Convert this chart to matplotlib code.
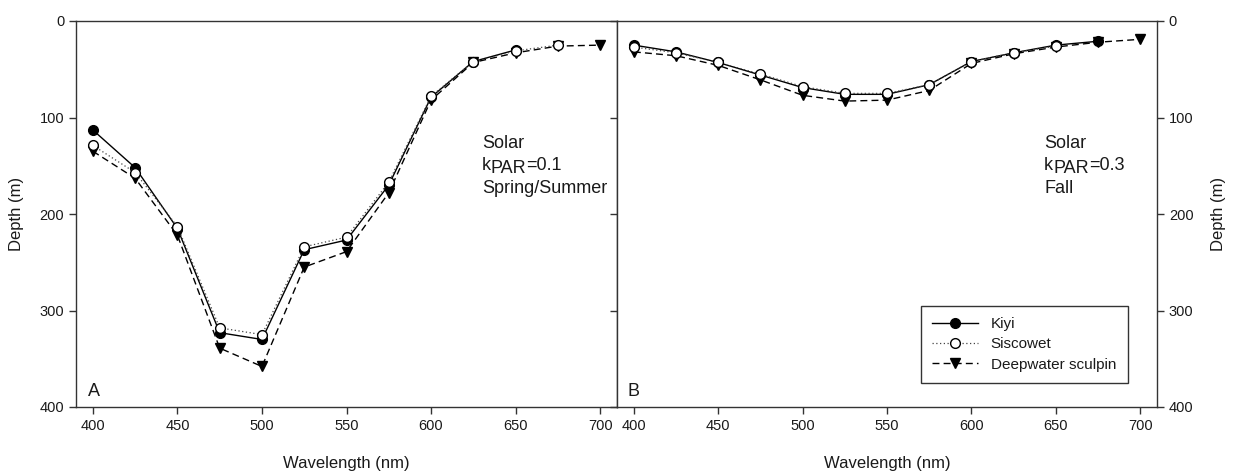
import matplotlib
matplotlib.use("Agg")
import matplotlib.pyplot as plt
from matplotlib.transforms import offset_copy

plt.rcParams['font.family'] = ['Liberation Sans', 'DejaVu Sans']

# ---------------- data ----------------
wl = [400, 425, 450, 475, 500, 525, 550, 575, 600, 625, 650, 675, 700]

# Panel A: Solar, kPAR = 0.1, Spring/Summer
a_kiyi_wl = [400, 425, 450, 475, 500, 525, 550, 575, 600, 625, 650]
a_kiyi = [113, 152, 215, 323, 330, 237, 227, 170, 79, 42, 30]
a_sisc_wl = [400, 425, 450, 475, 500, 525, 550, 575, 600, 625, 650, 675]
a_sisc = [129, 157, 213, 318, 325, 234, 224, 167, 78, 42, 31, 25]
a_scul_wl = [400, 425, 450, 475, 500, 525, 550, 575, 600, 625, 650, 675, 700]
a_scul = [135, 163, 222, 339, 358, 255, 239, 178, 82, 43, 33, 26, 25]

# Panel B: Solar, kPAR = 0.3, Fall
b_kiyi_wl = [400, 425, 450, 475, 500, 525, 550, 575, 600, 625, 650, 675]
b_kiyi = [25, 32, 43, 56, 69, 76, 76, 66, 42, 33, 25, 21]
b_sisc_wl = [400, 425, 450, 475, 500, 525, 550, 575, 600, 625, 650]
b_sisc = [27, 33, 43, 55, 68, 75, 75, 66, 42, 33, 26]
b_scul_wl = [400, 425, 450, 475, 500, 525, 550, 575, 600, 625, 650, 675, 700]
b_scul = [32, 36, 46, 61, 77, 83, 82, 72, 44, 34, 27, 22, 19]

series_names = ["Kiyi", "Siscowet", "Deepwater sculpin"]
panel_letters = ["A", "B"]
panel_kpar = ["0.1", "0.3"]
panel_season = ["Spring/Summer", "Fall"]
xticks = [400, 450, 500, 550, 600, 650, 700]
yticks = [0, 100, 200, 300, 400]

# ---------------- figure ----------------
W, H = 1233, 474
fig = plt.figure(figsize=(W / 100, H / 100), dpi=100)
axA = fig.add_axes([76 / W, 67 / H, 541 / W, 386 / H])
axB = fig.add_axes([617 / W, 67 / H, 540 / W, 386 / H])

spine_col = '#333333'
txt_col = '#1a1a1a'


def draw(ax, kw, k, sw, s, dw, d):
    ax.plot(dw, d, color='black', lw=1.0, linestyle=(0, (5, 3)), marker='v',
            markersize=7, markerfacecolor='black', markeredgecolor='black',
            label=series_names[2], zorder=3)
    ax.plot(kw, k, color='black', lw=1.0, linestyle='-', marker='o',
            markersize=7, markerfacecolor='black', markeredgecolor='black',
            label=series_names[0], zorder=4)
    ax.plot(sw, s, color='#444444', lw=0.9, linestyle=(0, (1, 2)), marker='o',
            markersize=7, markerfacecolor='white', markeredgecolor='black',
            markeredgewidth=1.0, label=series_names[1], zorder=5)


draw(axA, a_kiyi_wl, a_kiyi, a_sisc_wl, a_sisc, a_scul_wl, a_scul)
draw(axB, b_kiyi_wl, b_kiyi, b_sisc_wl, b_sisc, b_scul_wl, b_scul)

for ax in (axA, axB):
    ax.set_xlim(390, 710)
    ax.set_ylim(400, 0)
    ax.set_xticks(xticks)
    ax.set_yticks(yticks)
    for sp in ax.spines.values():
        sp.set_color(spine_col)
        sp.set_linewidth(1.0)
    ax.tick_params(axis='both', direction='out', length=5, width=1.0,
                   color=spine_col, labelsize=10.5, labelcolor=txt_col)
    ax.set_xlabel("Wavelength (nm)", fontsize=12, color=txt_col, labelpad=17)

axA.set_ylabel("Depth (m)", fontsize=12, color=txt_col, labelpad=11)
axA.tick_params(axis='y', left=True, right=False, labelleft=True)

axB.tick_params(axis='y', left=True, right=True, labelleft=False, labelright=True)
axB.yaxis.set_label_position('right')
axB.set_ylabel("Depth (m)", fontsize=12, color=txt_col, labelpad=13)

# panel letters
for ax, letter, x0 in ((axA, panel_letters[0], 0.023), (axB, panel_letters[1], 0.02)):
    ax.text(x0, 0.028, letter, transform=ax.transAxes, fontsize=13,
            color=txt_col, va='baseline', ha='left')

# annotations
fig.canvas.draw()
renderer = fig.canvas.get_renderer()
fs = 13
for ax, x0, kp, season in ((axA, 0.750, panel_kpar[0], panel_season[0]),
                           (axB, 0.791, panel_kpar[1], panel_season[1])):
    ax.text(x0, 0.671, "Solar", transform=ax.transAxes, fontsize=fs,
            color=txt_col, va='baseline', ha='left')
    tk = ax.text(x0, 0.614, "k", transform=ax.transAxes, fontsize=fs,
                 color=txt_col, va='baseline', ha='left')
    bk = tk.get_window_extent(renderer)
    tp = ax.text(x0, 0.614, "PAR",
                 transform=offset_copy(ax.transAxes, fig=fig, x=bk.width, y=-3, units='dots'),
                 fontsize=fs, color=txt_col, va='baseline', ha='left')
    bp = tp.get_window_extent(renderer)
    ax.text(x0, 0.614, "=" + kp,
            transform=offset_copy(ax.transAxes, fig=fig, x=bk.width + bp.width, y=0, units='dots'),
            fontsize=fs, color=txt_col, va='baseline', ha='left')
    ax.text(x0, 0.554, season, transform=ax.transAxes, fontsize=fs,
            color=txt_col, va='baseline', ha='left')

# legend (order Kiyi, Siscowet, Deepwater sculpin)
handles, labels = axB.get_legend_handles_labels()
order = [labels.index(n) for n in series_names]
leg = axB.legend([handles[i] for i in order], [labels[i] for i in order],
                 loc='lower left', bbox_to_anchor=(0.563, 0.062, 0.383, 0.205),
                 mode='expand', fontsize=11, frameon=True, fancybox=False,
                 edgecolor='black', handlelength=3.0, handletextpad=0.8,
                 borderaxespad=0, labelspacing=0.4, borderpad=0.75)
leg.get_frame().set_linewidth(1.0)
for t in leg.get_texts():
    t.set_color(txt_col)

fig.savefig("out.png", dpi=100)
